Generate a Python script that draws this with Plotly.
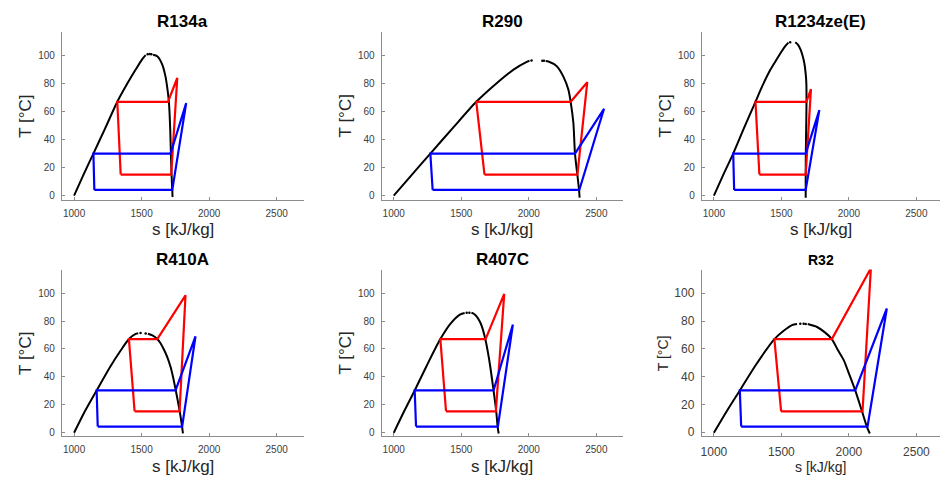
import plotly.graph_objects as go

# ---------------- data (s in kJ/kg as labelled, T in °C) -------------
titles = ["R134a", "R290", "R1234ze(E)", "R410A", "R407C", "R32"]

# R134a
r134a_liq_s = [1000, 1070, 1143, 1230, 1320, 1394, 1456, 1505, 1530]
r134a_liq_T = [0, 15, 30, 48, 67, 80, 90, 97.5, 100.3]
r134a_dot_s = [1545, 1560, 1572]
r134a_dot_T = [100.9, 101.1, 101.0]
r134a_vap_s = [1585, 1616, 1653, 1677, 1690, 1702, 1712, 1717, 1722, 1727, 1729]
r134a_vap_T = [100.6, 99.5, 93.6, 85, 77, 67, 47, 29, 14.5, 3.6, -1]
r134a_red_s = [1345, 1719, 1764, 1695, 1320, 1345]
r134a_red_T = [15, 15, 84, 67, 67, 15]
r134a_blue_s = [1150, 1727, 1830, 1714, 1143, 1150]
r134a_blue_T = [4, 4, 66, 30, 30, 4]

# R290
r290_liq_s = [1000, 1135, 1271, 1435, 1611, 1764, 1887, 1985, 2005]
r290_liq_T = [0, 15, 30, 48, 67, 80.5, 90, 95.5, 96.3]
r290_dot_s = [2020, 2100, 2112]
r290_dot_T = [96.5, 96.4, 96.3]
r290_vap_s = [2125, 2145, 2207, 2256, 2293, 2310, 2330, 2342, 2360, 2372, 2376]
r290_vap_T = [96.1, 95.8, 92.4, 85, 75.7, 67, 52, 30, 14.5, 4, -1.5]
r290_red_s = [1672, 2360, 2433, 2310, 1611, 1672]
r290_red_T = [15, 15, 81, 67, 67, 15]
r290_blue_s = [1288, 2374, 2557, 2342, 1271, 1288]
r290_blue_T = [4, 4, 62, 30, 30, 4]

# R1234ze(E)
r1234_liq_s = [1000, 1070, 1143, 1222, 1308, 1360, 1419, 1463, 1505, 1530, 1552]
r1234_liq_T = [0, 15, 30, 48, 67, 78.5, 90, 97, 103.5, 107, 109.3]
r1234_dot_s = [1565]
r1234_dot_T = [109.6]
r1234_vap_s = [1603, 1625, 1643, 1658, 1670, 1680, 1685, 1686, 1684, 1681, 1680, 1680]
r1234_vap_T = [109.5, 107.5, 104, 99.5, 94.5, 87, 80, 67, 50, 30, 15, -1.5]
r1234_red_s = [1337, 1680, 1719, 1685, 1308, 1337]
r1234_red_T = [15, 15, 76, 67, 67, 15]
r1234_blue_s = [1150, 1680, 1781, 1680, 1143, 1150]
r1234_blue_T = [4, 4, 61, 30, 30, 4]

# R410A
r410_liq_s = [1000, 1080, 1167, 1271, 1340, 1406, 1456, 1475]
r410_liq_T = [-0.5, 15, 30, 47.6, 58, 67, 70.7, 71.2]
r410_dot_s = [1492, 1530]
r410_dot_T = [71.3, 71.0]
r410_vap_s = [1547, 1580, 1616, 1640, 1665, 1690, 1714, 1733, 1751, 1768, 1783, 1798, 1806]
r410_vap_T = [70.8, 69.6, 67, 64, 59.5, 54, 47, 39.5, 31, 22.5, 14.5, 5, -1]
r410_red_s = [1448, 1781, 1825, 1616, 1406, 1448]
r410_red_T = [15, 15, 98.5, 67, 67, 15]
r410_blue_s = [1175, 1800, 1899, 1751, 1167, 1175]
r410_blue_T = [4, 4, 69, 30, 30, 4]

# R407C
r407_liq_s = [1000, 1077, 1155, 1245, 1345, 1419, 1493, 1525]
r407_liq_T = [-0.5, 15, 30, 48, 67, 78, 84.8, 85.8]
r407_dot_s = [1540, 1560]
r407_dot_T = [86.0, 86.0]
r407_vap_s = [1575, 1595, 1616, 1638, 1653, 1678, 1698, 1714, 1739, 1759, 1769, 1777]
r407_vap_T = [86, 85, 83, 79.5, 76, 67, 57, 47.6, 30, 15, 4, -1]
r407_red_s = [1387, 1756, 1818, 1680, 1345, 1387]
r407_red_T = [15, 15, 99.5, 67, 67, 15]
r407_blue_s = [1165, 1771, 1882, 1739, 1155, 1165]
r407_blue_T = [4, 4, 77.4, 30, 30, 4]

# R32
r32_liq_s = [1000, 1095, 1192, 1308, 1448, 1517, 1579, 1616]
r32_liq_T = [-0.5, 15, 30, 48, 67, 73, 77, 77.8]
r32_dot_s = [1640, 1665, 1680]
r32_dot_T = [78.0, 78.0, 77.9]
r32_vap_s = [1695, 1764, 1820, 1874, 1916, 1961, 2005, 2047, 2097, 2133, 2155]
r32_vap_T = [77.8, 75.7, 72, 67, 59.5, 52, 41, 30, 15, 4, -1]
r32_red_s = [1498, 2101, 2163, 1874, 1448, 1498]
r32_red_T = [15, 15, 118, 67, 67, 15]
r32_blue_s = [1202, 2138, 2281, 2047, 1192, 1202]
r32_blue_T = [4, 4, 89, 30, 30, 4]

x_ticks = [1000, 1500, 2000, 2500]
y_ticks = [0, 20, 40, 60, 80, 100]

panels = [
    (r134a_liq_s, r134a_liq_T, r134a_dot_s, r134a_dot_T, r134a_vap_s, r134a_vap_T,
     r134a_red_s, r134a_red_T, r134a_blue_s, r134a_blue_T),
    (r290_liq_s, r290_liq_T, r290_dot_s, r290_dot_T, r290_vap_s, r290_vap_T,
     r290_red_s, r290_red_T, r290_blue_s, r290_blue_T),
    (r1234_liq_s, r1234_liq_T, r1234_dot_s, r1234_dot_T, r1234_vap_s, r1234_vap_T,
     r1234_red_s, r1234_red_T, r1234_blue_s, r1234_blue_T),
    (r410_liq_s, r410_liq_T, r410_dot_s, r410_dot_T, r410_vap_s, r410_vap_T,
     r410_red_s, r410_red_T, r410_blue_s, r410_blue_T),
    (r407_liq_s, r407_liq_T, r407_dot_s, r407_dot_T, r407_vap_s, r407_vap_T,
     r407_red_s, r407_red_T, r407_blue_s, r407_blue_T),
    (r32_liq_s, r32_liq_T, r32_dot_s, r32_dot_T, r32_vap_s, r32_vap_T,
     r32_red_s, r32_red_T, r32_blue_s, r32_blue_T),
]

# ---------------- layout geometry (pixels of a 940x484 canvas) ----------------
W, H = 940, 484
FONT = "Liberation Sans, Arial, Helvetica, sans-serif"
col_px = [(61, 303), (381, 623), (701.5, 940)]
x_ranges = [[910, 2700], [910, 2700], [910, 2675]]
row_px = [(32, 201), (271.3, 439)]
y_range = [-3, 117]

fig = go.Figure()
annotations = []

for i, p in enumerate(panels):
    r, c = divmod(i, 3)
    n = "" if i == 0 else str(i + 1)
    xa, ya = "x" + n, "y" + n
    liq_s, liq_T, dot_s, dot_T, vap_s, vap_T, red_s, red_T, blue_s, blue_T = p

    fig.add_trace(go.Scatter(x=liq_s, y=liq_T, mode="lines", line=dict(color="black", width=2, shape="spline", smoothing=0.7),
                             xaxis=xa, yaxis=ya, showlegend=False, hoverinfo="skip"))
    fig.add_trace(go.Scatter(x=dot_s, y=dot_T, mode="markers", marker=dict(color="black", size=2.5),
                             xaxis=xa, yaxis=ya, showlegend=False, hoverinfo="skip"))
    fig.add_trace(go.Scatter(x=vap_s, y=vap_T, mode="lines", line=dict(color="black", width=2, shape="spline", smoothing=0.7),
                             xaxis=xa, yaxis=ya, showlegend=False, hoverinfo="skip"))
    fig.add_trace(go.Scatter(x=red_s, y=red_T, mode="lines", line=dict(color="#ff0000", width=2.2),
                             xaxis=xa, yaxis=ya, showlegend=False, hoverinfo="skip"))
    fig.add_trace(go.Scatter(x=blue_s, y=blue_T, mode="lines", line=dict(color="#0000ff", width=2.2),
                             xaxis=xa, yaxis=ya, showlegend=False, hoverinfo="skip"))

    small = (i == 5)
    tick_size = 12 if small else 10
    label_size = 14 if small else 17
    title_size = 14 if small else 17

    x0, x1 = col_px[c]
    y0, y1 = row_px[r]
    common = dict(showline=True, linecolor="#8c8c8c", linewidth=1, ticks="inside", ticklen=3,
                  tickcolor="#8c8c8c", showgrid=False, zeroline=False,
                  tickfont=dict(family=FONT, size=tick_size, color="#404040"))
    fig.layout["xaxis" + n] = dict(domain=[x0 / W, min(x1 / W, 1.0)], range=x_ranges[c], anchor=ya,
                                   tickvals=x_ticks, ticklabelstandoff=4, **common)
    fig.layout["yaxis" + n] = dict(domain=[1 - y1 / H, 1 - y0 / H], range=y_range, anchor=xa,
                                   tickvals=y_ticks, ticklabelstandoff=4, **common)

    cx = (x0 + min(x1, W)) / 2
    title_y = 22 if r == 0 else (261 if not small else 262)
    annotations.append(dict(text="<b>" + titles[i] + "</b>", x=cx / W, y=1 - title_y / H, xref="paper", yref="paper",
                            xanchor="center", yanchor="middle", showarrow=False,
                            font=dict(family=FONT, size=title_size, color="black")))
    sy = (231 if r == 0 else 469) if not small else 470
    annotations.append(dict(text="s [kJ/kg]", x=cx / W, y=1 - sy / H, xref="paper", yref="paper",
                            xanchor="center", yanchor="middle", showarrow=False,
                            font=dict(family=FONT, size=label_size, color="#262626")))
    tx = x0 - 36 if not small else 663
    annotations.append(dict(text="T [°C]", x=tx / W, y=1 - ((y0 + y1) / 2) / H, xref="paper", yref="paper",
                            xanchor="center", yanchor="middle", textangle=-90, showarrow=False,
                            font=dict(family=FONT, size=label_size, color="#262626")))

fig.update_layout(width=W, height=H, margin=dict(l=0, r=0, t=0, b=0),
                  paper_bgcolor="white", plot_bgcolor="white", annotations=annotations,
                  font=dict(family=FONT))

fig.write_html("out.html", config={"displayModeBar": False},
               post_script="document.body.style.margin='0';document.body.style.overflow='hidden';")
